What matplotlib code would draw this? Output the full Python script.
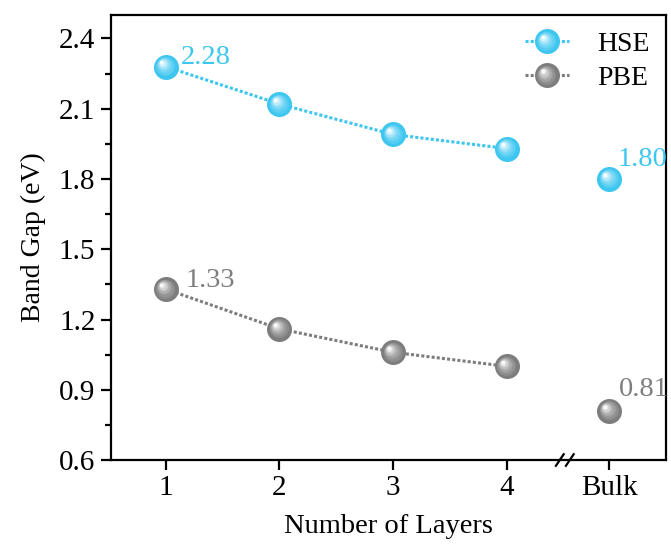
import numpy as np
import matplotlib
matplotlib.use("Agg")
import matplotlib.pyplot as plt
import matplotlib.transforms as mtransforms
from matplotlib.lines import Line2D
from matplotlib.legend_handler import HandlerLine2D
from matplotlib.colors import to_rgb

plt.rcParams['font.family'] = ['Liberation Serif', 'DejaVu Serif']

# Band gap data (eV)
layers = [1, 2, 3, 4]
hse_layers = [2.28, 2.12, 1.99, 1.93]
pbe_layers = [1.33, 1.16, 1.06, 1.00]
bulk_pos = 4.9
hse_bulk = 1.80
pbe_bulk = 0.81
xtick_pos = [1, 2, 3, 4, bulk_pos]
xtick_labels = ['1', '2', '3', '4', 'Bulk']

hse_color = '#3dc6f0'
pbe_color = '#7d7d7d'
ms = 18
dots = (0, (1, 0.7))


def blend(c, w):
    c = np.array(to_rgb(c))
    return tuple(c + (1 - c) * w)


def highlight_layers(size):
    # (marker size, offset in points, lightness) for the shading discs
    n = 8
    out = []
    for k in range(n):
        f = (k + 1) / n
        out.append((size * (0.85 - 0.72 * f), -size * 0.17 * f, 0.08 + 0.9 * f ** 1.6))
    return out


def sphere(ax, x, y, color, size=ms, zorder=5):
    ax.plot(x, y, 'o', ms=size, color=color, mec='none', zorder=zorder)
    for k, (s, off, w) in enumerate(highlight_layers(size)):
        tr = ax.transData + mtransforms.ScaledTranslation(off / 72, -off / 72, ax.figure.dpi_scale_trans)
        ax.plot(x, y, 'o', ms=s, color=blend(color, w), mec='none',
                transform=tr, zorder=zorder + 0.01 * (k + 1))


class SphereHandler(HandlerLine2D):
    def create_artists(self, legend, orig_handle, xdescent, ydescent, width, height, fontsize, trans):
        artists = super().create_artists(legend, orig_handle, xdescent, ydescent, width, height, fontsize, trans)
        color = orig_handle.get_color()
        xc = width / 2 - xdescent
        yc = height / 2 - ydescent
        for s, off, w in highlight_layers(orig_handle.get_markersize()):
            tr = trans + mtransforms.ScaledTranslation(off / 72, -off / 72, legend.figure.dpi_scale_trans)
            artists.append(Line2D([xc], [yc], marker='o', ms=s, color=blend(color, w),
                                  mec='none', linestyle='none', transform=tr))
        return artists


fig = plt.figure(figsize=(6.71, 5.47), dpi=100)
ax = fig.add_axes([0.165, 0.159, 0.8275, 0.8135])

ax.plot(layers, hse_layers, linestyle=dots, lw=2.2, color=hse_color, zorder=3)
ax.plot(layers, pbe_layers, linestyle=dots, lw=2.2, color=pbe_color, zorder=3)
sphere(ax, layers + [bulk_pos], hse_layers + [hse_bulk], hse_color)
sphere(ax, layers + [bulk_pos], pbe_layers + [pbe_bulk], pbe_color)

# value labels
lbl = dict(textcoords='offset points', fontsize=20.5, va='baseline', ha='left')
ax.annotate(f'{hse_layers[0]:.2f}', (layers[0], hse_layers[0]), xytext=(11, 1.5), color=hse_color, **lbl)
ax.annotate(f'{pbe_layers[0]:.2f}', (layers[0], pbe_layers[0]), xytext=(14, 1.5), color=pbe_color, **lbl)
ax.annotate(f'{hse_bulk:.2f}', (bulk_pos, hse_bulk), xytext=(6, 9.5), color=hse_color, **lbl)
ax.annotate(f'{pbe_bulk:.2f}', (bulk_pos, pbe_bulk), xytext=(7, 11), color=pbe_color, **lbl)

ax.set_xlim(0.516, 5.40)
ax.set_ylim(0.6, 2.5)
ax.set_xticks(xtick_pos)
ax.set_xticklabels(xtick_labels)
ax.set_yticks(np.arange(0.6, 2.41, 0.3))
ax.set_yticks(np.arange(0.75, 2.5, 0.3), minor=True)
ax.yaxis.set_major_formatter(matplotlib.ticker.FormatStrFormatter('%.1f'))
ax.tick_params(axis='both', which='major', direction='out', length=7, width=1.6, labelsize=21, pad=4)
ax.tick_params(axis='y', which='minor', direction='out', length=4, width=1.6)
ax.tick_params(top=False, right=False)
for sp in ax.spines.values():
    sp.set_linewidth(1.6)

ax.set_xlabel('Number of Layers', fontsize=20.5, labelpad=9)
ax.set_ylabel('Band Gap (eV)', fontsize=20, labelpad=9)

# axis break marks on the bottom spine
bx = (4.51 - 0.516) / (5.40 - 0.516)
for dx in (-0.009, 0.009):
    ax.plot([bx + dx - 0.007, bx + dx + 0.007], [-0.013, 0.013], transform=ax.transAxes,
            color='black', lw=1.6, clip_on=False, zorder=6)

h1 = Line2D([], [], linestyle=dots, lw=2.2, color=hse_color, marker='o', ms=ms, mec='none')
h2 = Line2D([], [], linestyle=dots, lw=2.2, color=pbe_color, marker='o', ms=ms, mec='none')
ax.legend([h1, h2], ['HSE', 'PBE'], loc='upper right', frameon=False, fontsize=20,
          handler_map={Line2D: SphereHandler()}, handlelength=1.6, labelspacing=0.3,
          borderaxespad=0.2, handletextpad=1.0)

fig.savefig('out.png', dpi=100)
